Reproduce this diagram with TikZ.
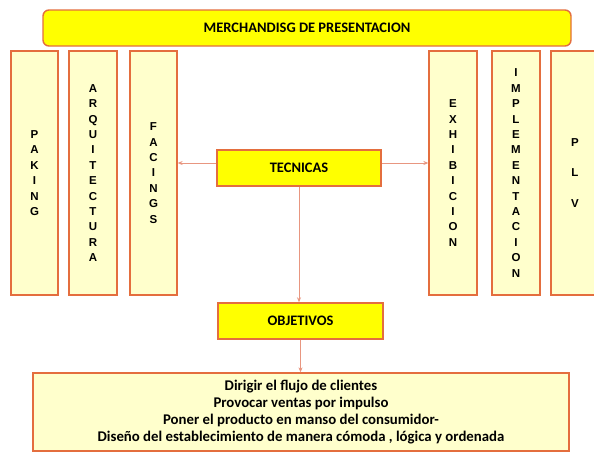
\documentclass[tikz,border=0pt]{standalone}
\usepackage{fontspec}
\setmainfont{Carlito}
\newfontfamily\colfont[BoldFont={Liberation Sans Bold}]{Liberation Sans}
\usetikzlibrary{arrows.meta}
\definecolor{bordo}{RGB}{228,110,62}
\definecolor{palefill}{RGB}{255,255,204}
\definecolor{brightfill}{RGB}{255,255,0}
\definecolor{arrowcol}{RGB}{232,150,128}
\tikzset{
  titlebox/.style={draw=bordo, line width=1.4pt, fill=brightfill, inner sep=0pt, font=\bfseries\fontsize{14.5}{17}\selectfont},
  colbox/.style={draw=bordo, line width=1.3pt, fill=palefill, inner sep=0pt, minimum width=47pt, minimum height=244pt, align=center, font=\colfont\bfseries\fontsize{11.5}{15.4}\selectfont},
  conn/.style={draw=arrowcol, line width=0.7pt, -{Stealth[length=5pt,width=4pt]}}
}
\begin{document}
\begin{tikzpicture}[x=1pt,y=-1pt]
\clip (0,0) rectangle (594,453);
\fill[white] (0,0) rectangle (594,453);
\node[titlebox, rounded corners=6pt, minimum width=528pt, minimum height=36pt] (top) at (307,28) {MERCHANDISG DE PRESENTACION};
\node[colbox] (pak) at (34.5,173) {P\\A\\K\\I\\N\\G};
\node[colbox, minimum width=48pt] (arq) at (93,173) {A\\R\\Q\\U\\I\\T\\E\\C\\T\\U\\R\\A};
\node[colbox] (fac) at (153.5,173) {F\\A\\C\\I\\N\\G\\S};
\node[colbox, minimum width=48pt] (exh) at (453,173) {E\\X\\H\\I\\B\\I\\C\\I\\O\\N};
\node[colbox, minimum width=48pt] (imp) at (516,173) {I\\M\\P\\L\\E\\M\\E\\N\\T\\A\\C\\I\\O\\N};
\node[colbox, minimum width=48pt, font=\colfont\bfseries\fontsize{11.5}{30.8}\selectfont] (plv) at (575,173) {P\\L\\V};
\node[titlebox, minimum width=164pt, minimum height=36pt] (tec) at (299,168) {TECNICAS};
\node[titlebox, minimum width=165pt, minimum height=36pt] (obj) at (300.5,321) {OBJETIVOS};
\node[draw=bordo, line width=1.3pt, fill=palefill, minimum width=536pt, minimum height=78pt, align=center, font=\bfseries\fontsize{14.8}{17}\selectfont] (res) at (301,412)
  {Dirigir el flujo de clientes\\Provocar ventas por impulso\\Poner el producto en manso del consumidor-\\Diseño del establecimiento de manera cómoda , lógica y ordenada};
\draw[conn] ([yshift=5pt]tec.west) -- ([yshift=5pt]tec.west -| fac.east);
\draw[conn] ([yshift=5pt]tec.east) -- ([yshift=5pt]tec.east -| exh.west);
\draw[conn] (tec.south) -- (obj.north -| tec.south);
\draw[conn] (obj.south) -- (res.north -| obj.south);
\end{tikzpicture}
\end{document}
